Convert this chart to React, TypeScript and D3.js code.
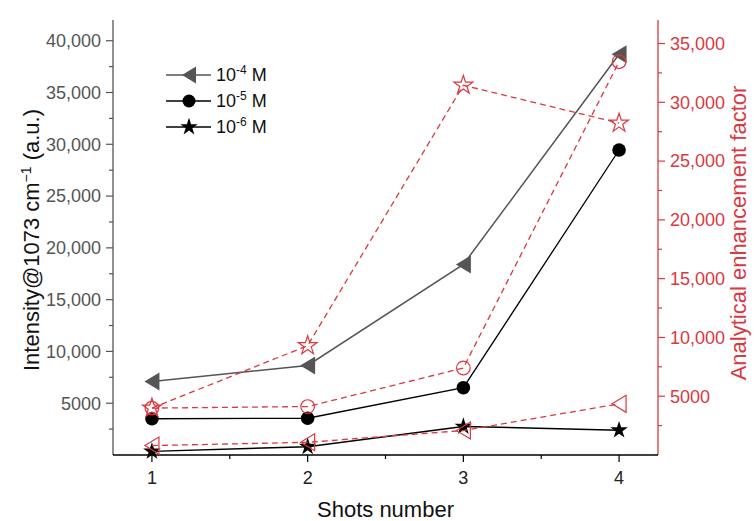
import React from "react";
import * as d3 from "d3";

const shots = [1, 2, 3, 4];
// Left axis: intensity (solid lines, filled markers)
const intensity4 = [7100, 8650, 18400, 38700];
const intensity5 = [3500, 3550, 6500, 29450];
const intensity6 = [350, 800, 2750, 2400];
// Right axis: analytical enhancement factor (dashed red, open markers)
const aef4 = [800, 1080, 2080, 4350];
const aef5 = [3990, 4120, 7400, 33450];
const aef6 = [3990, 9300, 31450, 28230];

const leftTicks = [5000, 10000, 15000, 20000, 25000, 30000, 35000, 40000];
const leftMinor = [2500, 7500, 12500, 17500, 22500, 27500, 32500, 37500];
const rightTicks = [5000, 10000, 15000, 20000, 25000, 30000, 35000];
const rightMinor = [2500, 7500, 12500, 17500, 22500, 27500, 32500];
const xTicks = [1, 2, 3, 4];
const xMinor = [1.5, 2.5, 3.5];

const W = 754;
const H = 521;
const PL = 113, PR = 658, PT = 20, PB = 455;
const RED = "#d9393f";
const GRAY = "#555555";
const FONT = "'Liberation Sans', Arial, Helvetica, sans-serif";

const x = d3.scaleLinear().domain([0.75, 4.25]).range([PL, PR]);
const yL = d3.scaleLinear().domain([0, 42000]).range([PB, PT]);
const yR = d3.scaleLinear().domain([0, 37000]).range([PB, PT]);

const fmt = (v: number) => (v >= 10000 ? d3.format(",")(v) : String(v));

function triLeft(cx: number, cy: number, w: number, h: number) {
  return `M${cx - w / 2},${cy} L${cx + w / 2},${cy - h / 2} L${cx + w / 2},${cy + h / 2} Z`;
}

const starPath = d3.symbol().type(d3.symbolStar).size(95)() as string;
const starPathOpen = d3.symbol().type(d3.symbolStar).size(110)() as string;

function lineFor(vals: number[], ys: d3.ScaleLinear<number, number>) {
  return d3
    .line<number>()
    .x((_, i) => x(shots[i]))
    .y((v) => ys(v))(vals) as string;
}

export default function App() {
  const legendRows = [
    { y: 75, exp: "-4", color: GRAY, kind: "tri" },
    { y: 101, exp: "-5", color: "#000", kind: "circle" },
    { y: 127, exp: "-6", color: "#000", kind: "star" },
  ];
  return (
    <svg
      width={W}
      height={H}
      style={{ position: "absolute", left: 0, top: 0, background: "#fff" }}
      fontFamily={FONT}
    >
      <rect x={0} y={0} width={W} height={H} fill="#fff" />

      {/* Left axis */}
      <line x1={PL} x2={PL} y1={PT} y2={PB} stroke={GRAY} strokeWidth={1.3} />
      {leftTicks.map((t) => (
        <g key={"lt" + t}>
          <line x1={PL - 7} x2={PL} y1={yL(t)} y2={yL(t)} stroke={GRAY} strokeWidth={1.2} />
          <text x={PL - 12} y={yL(t)} dy="0.35em" textAnchor="end" fontSize={18} fill={GRAY}>
            {fmt(t)}
          </text>
        </g>
      ))}
      {leftMinor.map((t) => (
        <line key={"lm" + t} x1={PL - 4} x2={PL} y1={yL(t)} y2={yL(t)} stroke={GRAY} strokeWidth={1.2} />
      ))}

      {/* Right axis */}
      <line x1={PR} x2={PR} y1={PT} y2={PB} stroke={RED} strokeWidth={1.3} />
      {rightTicks.map((t) => (
        <g key={"rt" + t}>
          <line x1={PR} x2={PR + 7} y1={yR(t)} y2={yR(t)} stroke={RED} strokeWidth={1.2} />
          <text x={PR + 12} y={yR(t)} dy="0.35em" textAnchor="start" fontSize={18} fill={RED}>
            {fmt(t)}
          </text>
        </g>
      ))}
      {rightMinor.map((t) => (
        <line key={"rm" + t} x1={PR} x2={PR + 4} y1={yR(t)} y2={yR(t)} stroke={RED} strokeWidth={1.2} />
      ))}

      {/* Bottom axis */}
      <line x1={PL} x2={PR} y1={PB} y2={PB} stroke="#000" strokeWidth={1.3} />
      {xTicks.map((t) => (
        <g key={"xt" + t}>
          <line x1={x(t)} x2={x(t)} y1={PB} y2={PB + 7} stroke="#000" strokeWidth={1.2} />
          <text x={x(t)} y={PB + 23} dy="0.35em" textAnchor="middle" fontSize={18} fill="#222">
            {t}
          </text>
        </g>
      ))}
      {xMinor.map((t) => (
        <line key={"xm" + t} x1={x(t)} x2={x(t)} y1={PB} y2={PB + 4} stroke="#000" strokeWidth={1.2} />
      ))}

      {/* Axis titles */}
      <text x={(PL + PR) / 2} y={517} textAnchor="middle" fontSize={22} fill="#111">
        Shots number
      </text>
      <text transform="translate(39,240) rotate(-90)" textAnchor="middle" fontSize={22} fill="#111">
        Intensity@1073 cm
        <tspan dy={-8} fontSize={14}>−1</tspan>
        <tspan dy={8}> (a.u.)</tspan>
      </text>
      <text transform="translate(746,233) rotate(-90)" textAnchor="middle" fontSize={22} fill={RED}>
        Analytical enhancement factor
      </text>

      {/* Solid series (left axis) */}
      <path d={lineFor(intensity4, yL)} fill="none" stroke={GRAY} strokeWidth={1.5} />
      <path d={lineFor(intensity5, yL)} fill="none" stroke="#000" strokeWidth={1.3} />
      <path d={lineFor(intensity6, yL)} fill="none" stroke="#000" strokeWidth={1.5} />
      {intensity4.map((v, i) => (
        <path key={"m4" + i} d={triLeft(x(shots[i]), yL(v), 15, 18)} fill={GRAY} />
      ))}
      {intensity5.map((v, i) => (
        <circle key={"m5" + i} cx={x(shots[i])} cy={yL(v)} r={6.8} fill="#000" />
      ))}
      {intensity6.map((v, i) => (
        <path key={"m6" + i} d={starPath} transform={`translate(${x(shots[i])},${yL(v)})`} fill="#000" />
      ))}

      {/* Dashed series (right axis) */}
      <path d={lineFor(aef4, yR)} fill="none" stroke={RED} strokeWidth={1.3} strokeDasharray="6,4" />
      <path d={lineFor(aef5, yR)} fill="none" stroke={RED} strokeWidth={1.3} strokeDasharray="6,4" />
      <path d={lineFor(aef6, yR)} fill="none" stroke={RED} strokeWidth={1.3} strokeDasharray="6,4" />
      {aef4.map((v, i) => (
        <path key={"a4" + i} d={triLeft(x(shots[i]), yR(v), 14, 17)} fill="none" stroke={RED} strokeWidth={1.2} />
      ))}
      {aef5.map((v, i) => (
        <circle key={"a5" + i} cx={x(shots[i])} cy={yR(v)} r={6.8} fill="none" stroke={RED} strokeWidth={1.2} />
      ))}
      {aef6.map((v, i) => (
        <path
          key={"a6" + i}
          d={starPathOpen}
          transform={`translate(${x(shots[i])},${yR(v)})`}
          fill="none"
          stroke={RED}
          strokeWidth={1.2}
        />
      ))}

      {/* Legend */}
      {legendRows.map((r) => (
        <g key={"lg" + r.exp}>
          <line x1={166} x2={211} y1={r.y} y2={r.y} stroke={r.color} strokeWidth={1.6} />
          {r.kind === "tri" && <path d={triLeft(189, r.y, 14, 17)} fill={GRAY} />}
          {r.kind === "circle" && <circle cx={189} cy={r.y} r={6.5} fill="#000" />}
          {r.kind === "star" && (
            <path d={starPath} transform={`translate(189,${r.y})`} fill="#000" />
          )}
          <text x={216} y={r.y} dy="0.35em" fontSize={18} fill="#111">
            10
            <tspan dy={-7} fontSize={12}>{r.exp}</tspan>
            <tspan dy={7}> M</tspan>
          </text>
        </g>
      ))}
    </svg>
  );
}
